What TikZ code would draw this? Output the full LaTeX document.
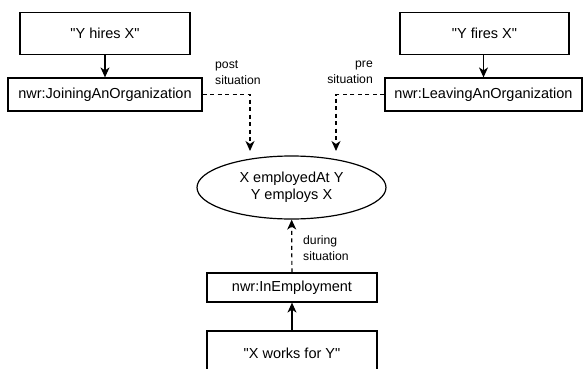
\documentclass[tikz,border=0pt]{standalone}
\usepackage{fontspec}
\setmainfont{Liberation Sans}
\usetikzlibrary{arrows.meta,shapes.geometric}
\begin{document}
\begin{tikzpicture}[x=1pt,y=-1pt,
  box/.style={draw,line width=1.2pt,rectangle,inner sep=0pt,font=\fontsize{14.5}{17}\selectfont},
  ell/.style={draw,line width=1.2pt,ellipse,inner sep=0pt,minimum width=189pt,minimum height=63pt,align=center,font=\fontsize{14.5}{17}\selectfont},
  arr/.style={line width=1.2pt,-{Stealth[length=10pt,width=9pt,inset=3pt]}},
  dsh/.style={arr,dash pattern=on 4pt off 3.5pt},
  lbl/.style={inner sep=0pt,font=\fontsize{12.2}{16}\selectfont}]
\useasboundingbox (0,0) rectangle (583,369);
\clip (0,0) rectangle (583,369);
\node[box,minimum width=170pt,minimum height=42pt] (hires) at (105,33.5) {\textquotedbl Y hires X\textquotedbl};
\node[box,minimum width=194pt,minimum height=33pt] (join) at (105,94.5) {nwr:JoiningAnOrganization};
\node[box,minimum width=169pt,minimum height=42pt] (fires) at (484.5,33.5) {\textquotedbl Y fires X\textquotedbl};
\node[box,minimum width=197pt,minimum height=33pt] (leave) at (483.5,94.5) {nwr:LeavingAnOrganization};
\node[ell] (emp) at (291.5,187.5) {X employedAt Y\\Y employs X};
\node[box,minimum width=170pt,minimum height=29pt] (inemp) at (292,287.5) {nwr:InEmployment};
\node[box,minimum width=170pt,minimum height=44pt] (works) at (292,353) {\textquotedbl X works for Y\textquotedbl};
\coordinate (j1) at (250,94.5);
\coordinate (j2) at (250,151);
\coordinate (l1) at (336,94.5);
\coordinate (l2) at (336,151);
\draw[arr] (hires) -- (join);
\draw[arr] (fires.south -| leave) -- (leave);
\draw[dsh] (join.east) -- (j1) -- (j2);
\draw[dsh] (leave.west) -- (l1) -- (l2);
\draw[dsh] (inemp) -- (emp);
\draw[arr] (works) -- (inemp);
\node[lbl,anchor=west,align=left] (lpost) at (215,72.5) {post\\situation};
\node[lbl,anchor=east,align=right] (lpre) at (373,72.5) {pre\\situation};
\node[lbl,anchor=west,align=left] (ldur) at (303,248) {during\\situation};
\end{tikzpicture}
\end{document}
